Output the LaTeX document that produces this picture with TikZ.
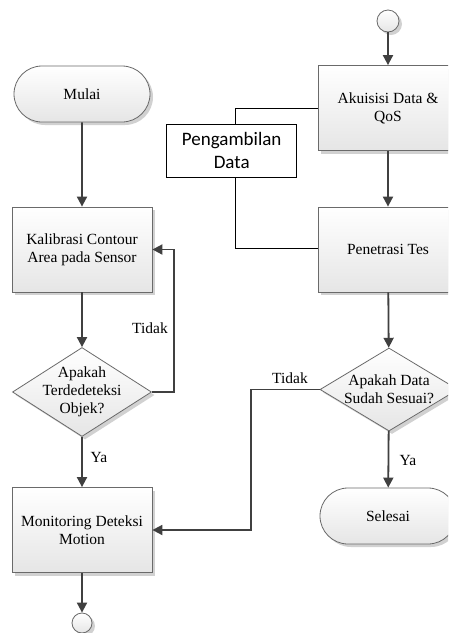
\documentclass[tikz,border=0pt]{standalone}
\usepackage{fontspec}
\setmainfont{Liberation Serif}
\newfontfamily\calib{Carlito}
\usetikzlibrary{shapes.geometric,shapes.misc,arrows.meta,shadows,calc}
\definecolor{linegray}{HTML}{404040}
\definecolor{bordergray}{HTML}{6A6A6A}
\tikzset{
  txt/.style={font=\fontsize{15.5}{18}\selectfont, text=black},
  base/.style={txt, draw=bordergray, line width=0.8pt, top color=white, bottom color=black!10,
    drop shadow={shadow xshift=3pt, shadow yshift=-3pt, fill=black!18, opacity=1}},
  procbox/.style={base, rectangle, minimum width=140pt, minimum height=85pt, align=center, inner sep=2pt},
  termbox/.style={base, rounded rectangle, minimum width=140pt, minimum height=56pt, inner sep=2pt},
  decbox/.style={base, diamond, inner sep=0pt},
  conncirc/.style={base, circle, minimum size=#1, inner sep=0pt},
  arr/.style={draw=linegray, line width=1.8pt, -{Triangle[length=10pt,width=10pt]}},
  thin/.style={draw=black, line width=0.9pt},
  lbl/.style={txt, inner sep=0pt},
}
\begin{document}
\begin{tikzpicture}[x=1pt,y=-1pt]
\useasboundingbox (0,0) rectangle (448,633);
\clip (0,0) rectangle (448,633);
\fill[white] (0,0) rectangle (448,633);

% left column
\node[termbox] (mulai) at (82,94) {Mulai};
\node[procbox] (kal) at (82,249.5) {Kalibrasi Contour\\Area pada Sensor};
\node[decbox, minimum width=139pt, minimum height=89pt,
  label={[txt, align=center]center:Apakah\\Terdedeteksi\\Objek?}] (d1) at (82,392) {};
\node[procbox] (mon) at (82,530) {Monitoring Deteksi\\Motion};
\node[conncirc=20pt] (endc) at (82,623) {};

% right column
\node[conncirc=22pt] (startc) at (388,21) {};
\node[procbox] (aku) at (388,108) {Akuisisi Data \&\\QoS};
\node[procbox] (pen) at (388,249.5) {Penetrasi Tes};
\node[decbox, minimum width=138pt, minimum height=83pt,
  label={[txt, align=center]center:Apakah Data\\Sudah Sesuai?}] (d2) at (389,389.5) {};
\node[termbox] (sel) at (388,516) {Selesai};

% Pengambilan Data
\node[draw=black, line width=1pt, fill=white, minimum width=130pt, minimum height=53pt,
  align=center, inner sep=1pt, font=\calib\fontsize{19}{23}\selectfont] (peng) at (231.7,150.5) {Pengambilan\\Data};

% connectors
\draw[arr] (mulai) -- (kal);
\draw[arr] (kal) -- (d1);
\draw[arr] (d1.east) -- ++(22,0) |- (kal.east);
\draw[arr] (d1) -- (mon);
\draw[arr] (mon) -- (endc);
\draw[arr] (startc) -- (aku);
\draw[arr] (aku) -- (pen);
\draw[arr] (pen) -- (d2);
\draw[arr] (d2) -- (sel);
\draw[arr] (d2.west) -- ++(-69,0) |- (mon.east);
\draw[thin] (aku.west) -| ([xshift=4pt]peng.north);
\draw[thin] ([xshift=4pt]peng.south) |- ([yshift=1.5pt]pen.west);

% labels
\node[lbl] (t1) at (150,328) {Tidak};
\node[lbl] (y1) at (99,457) {Ya};
\node[lbl] (t2) at (290,378) {Tidak};
\node[lbl] (y2) at (408,460) {Ya};
\end{tikzpicture}
\end{document}
